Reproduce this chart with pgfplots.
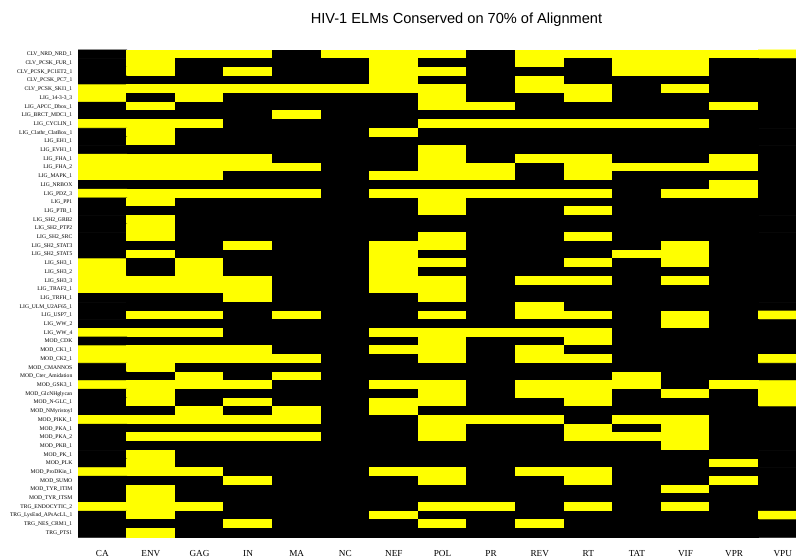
\documentclass[border=0pt]{standalone}
\usepackage{pgfplots}
\pgfplotsset{compat=1.18}
\usepackage{fontspec}
\setmainfont{Liberation Serif}
\newfontfamily\titlefont{Liberation Sans}
\definecolor{cellyellow}{RGB}{255,255,0}
\begin{document}
\begin{tikzpicture}
\useasboundingbox (0,0) rectangle (398pt,280pt);
\begin{axis}[
  at={(39pt,11.35pt)}, anchor=south west,
  x=24.3pt, y=4.351pt,
  xmin=-0.5, xmax=14.27, ymin=-0.5, ymax=55.5,
  axis line style={draw=none},
  major tick length=0pt,
  xtick={0,...,14},
  xticklabels={CA,ENV,GAG,IN,MA,NC,NEF,POL,PR,REV,RT,TAT,VIF,VPR,VPU},
  ytick={0,...,55},
  yticklabels={TRG\_PTS1,TRG\_NES\_CRM1\_1,TRG\_LysEnd\_APsAcLL\_1,TRG\_ENDOCYTIC\_2,MOD\_TYR\_ITSM,MOD\_TYR\_ITIM,MOD\_SUMO,MOD\_ProDKin\_1,MOD\_PLK,MOD\_PK\_1,MOD\_PKB\_1,MOD\_PKA\_2,MOD\_PKA\_1,MOD\_PIKK\_1,MOD\_NMyristoyl,MOD\_N-GLC\_1,MOD\_GlcNHglycan,MOD\_GSK3\_1,MOD\_Cter\_Amidation,MOD\_CMANNOS,MOD\_CK2\_1,MOD\_CK1\_1,MOD\_CDK,LIG\_WW\_4,LIG\_WW\_2,LIG\_USP7\_1,LIG\_ULM\_U2AF65\_1,LIG\_TRFH\_1,LIG\_TRAF2\_1,LIG\_SH3\_3,LIG\_SH3\_2,LIG\_SH3\_1,LIG\_SH2\_STAT5,LIG\_SH2\_STAT3,LIG\_SH2\_SRC,LIG\_SH2\_PTP2,LIG\_SH2\_GRB2,LIG\_PTB\_1,LIG\_PP1,LIG\_PDZ\_3,LIG\_NRBOX,LIG\_MAPK\_1,LIG\_FHA\_2,LIG\_FHA\_1,LIG\_EVH1\_1,LIG\_EH1\_1,LIG\_Clathr\_ClatBox\_1,LIG\_CYCLIN\_1,LIG\_BRCT\_MDC1\_1,LIG\_APCC\_Dbox\_1,LIG\_14-3-3\_3,CLV\_PCSK\_SKI1\_1,CLV\_PCSK\_PC7\_1,CLV\_PCSK\_PC1ET2\_1,CLV\_PCSK\_FUR\_1,CLV\_NRD\_NRD\_1},
  xticklabel style={font=\fontsize{4.6}{5}\selectfont, inner sep=0pt, yshift=-6.35pt},
  yticklabel style={font=\fontsize{2.8}{3}\selectfont, inner sep=0pt, xshift=-2.65pt},
  colormap={by}{color=(black) color=(cellyellow)},
  point meta min=0, point meta max=1,
]
\addplot[matrix plot*, mesh/cols=15, point meta=explicit] coordinates {
(0,55)[0] (1,55)[1] (2,55)[1] (3,55)[1] (4,55)[0] (5,55)[1] (6,55)[1] (7,55)[1] (8,55)[0] (9,55)[1] (10,55)[1] (11,55)[1] (12,55)[1] (13,55)[1] (14,55)[1]
(0,54)[0] (1,54)[1] (2,54)[0] (3,54)[0] (4,54)[0] (5,54)[0] (6,54)[1] (7,54)[0] (8,54)[0] (9,54)[1] (10,54)[0] (11,54)[1] (12,54)[1] (13,54)[0] (14,54)[0]
(0,53)[0] (1,53)[1] (2,53)[0] (3,53)[1] (4,53)[0] (5,53)[0] (6,53)[1] (7,53)[1] (8,53)[0] (9,53)[0] (10,53)[0] (11,53)[1] (12,53)[1] (13,53)[0] (14,53)[0]
(0,52)[0] (1,52)[0] (2,52)[0] (3,52)[0] (4,52)[0] (5,52)[0] (6,52)[1] (7,52)[0] (8,52)[0] (9,52)[1] (10,52)[0] (11,52)[0] (12,52)[0] (13,52)[0] (14,52)[0]
(0,51)[1] (1,51)[1] (2,51)[1] (3,51)[1] (4,51)[1] (5,51)[1] (6,51)[1] (7,51)[1] (8,51)[0] (9,51)[1] (10,51)[1] (11,51)[0] (12,51)[1] (13,51)[0] (14,51)[0]
(0,50)[1] (1,50)[0] (2,50)[1] (3,50)[0] (4,50)[0] (5,50)[0] (6,50)[0] (7,50)[1] (8,50)[0] (9,50)[0] (10,50)[1] (11,50)[0] (12,50)[0] (13,50)[0] (14,50)[0]
(0,49)[0] (1,49)[1] (2,49)[0] (3,49)[0] (4,49)[0] (5,49)[0] (6,49)[0] (7,49)[1] (8,49)[1] (9,49)[0] (10,49)[0] (11,49)[0] (12,49)[0] (13,49)[1] (14,49)[0]
(0,48)[0] (1,48)[0] (2,48)[0] (3,48)[0] (4,48)[1] (5,48)[0] (6,48)[0] (7,48)[0] (8,48)[0] (9,48)[0] (10,48)[0] (11,48)[0] (12,48)[0] (13,48)[0] (14,48)[0]
(0,47)[1] (1,47)[1] (2,47)[1] (3,47)[0] (4,47)[0] (5,47)[0] (6,47)[0] (7,47)[1] (8,47)[1] (9,47)[1] (10,47)[1] (11,47)[1] (12,47)[1] (13,47)[0] (14,47)[0]
(0,46)[0] (1,46)[1] (2,46)[0] (3,46)[0] (4,46)[0] (5,46)[0] (6,46)[1] (7,46)[0] (8,46)[0] (9,46)[0] (10,46)[0] (11,46)[0] (12,46)[0] (13,46)[0] (14,46)[0]
(0,45)[0] (1,45)[1] (2,45)[0] (3,45)[0] (4,45)[0] (5,45)[0] (6,45)[0] (7,45)[0] (8,45)[0] (9,45)[0] (10,45)[0] (11,45)[0] (12,45)[0] (13,45)[0] (14,45)[0]
(0,44)[0] (1,44)[0] (2,44)[0] (3,44)[0] (4,44)[0] (5,44)[0] (6,44)[0] (7,44)[1] (8,44)[0] (9,44)[0] (10,44)[0] (11,44)[0] (12,44)[0] (13,44)[0] (14,44)[0]
(0,43)[1] (1,43)[1] (2,43)[1] (3,43)[1] (4,43)[0] (5,43)[0] (6,43)[0] (7,43)[1] (8,43)[0] (9,43)[1] (10,43)[1] (11,43)[0] (12,43)[0] (13,43)[1] (14,43)[0]
(0,42)[1] (1,42)[1] (2,42)[1] (3,42)[1] (4,42)[1] (5,42)[0] (6,42)[0] (7,42)[1] (8,42)[1] (9,42)[0] (10,42)[1] (11,42)[1] (12,42)[1] (13,42)[1] (14,42)[0]
(0,41)[1] (1,41)[1] (2,41)[1] (3,41)[0] (4,41)[0] (5,41)[0] (6,41)[1] (7,41)[1] (8,41)[1] (9,41)[0] (10,41)[1] (11,41)[0] (12,41)[0] (13,41)[0] (14,41)[0]
(0,40)[0] (1,40)[0] (2,40)[0] (3,40)[0] (4,40)[0] (5,40)[0] (6,40)[0] (7,40)[0] (8,40)[0] (9,40)[0] (10,40)[0] (11,40)[0] (12,40)[0] (13,40)[1] (14,40)[0]
(0,39)[1] (1,39)[1] (2,39)[1] (3,39)[1] (4,39)[1] (5,39)[0] (6,39)[1] (7,39)[1] (8,39)[1] (9,39)[1] (10,39)[1] (11,39)[0] (12,39)[1] (13,39)[1] (14,39)[0]
(0,38)[0] (1,38)[1] (2,38)[0] (3,38)[0] (4,38)[0] (5,38)[0] (6,38)[0] (7,38)[1] (8,38)[0] (9,38)[0] (10,38)[0] (11,38)[0] (12,38)[0] (13,38)[0] (14,38)[0]
(0,37)[0] (1,37)[0] (2,37)[0] (3,37)[0] (4,37)[0] (5,37)[0] (6,37)[0] (7,37)[1] (8,37)[0] (9,37)[0] (10,37)[1] (11,37)[0] (12,37)[0] (13,37)[0] (14,37)[0]
(0,36)[0] (1,36)[1] (2,36)[0] (3,36)[0] (4,36)[0] (5,36)[0] (6,36)[0] (7,36)[0] (8,36)[0] (9,36)[0] (10,36)[0] (11,36)[0] (12,36)[0] (13,36)[0] (14,36)[0]
(0,35)[0] (1,35)[1] (2,35)[0] (3,35)[0] (4,35)[0] (5,35)[0] (6,35)[0] (7,35)[0] (8,35)[0] (9,35)[0] (10,35)[0] (11,35)[0] (12,35)[0] (13,35)[0] (14,35)[0]
(0,34)[0] (1,34)[1] (2,34)[0] (3,34)[0] (4,34)[0] (5,34)[0] (6,34)[0] (7,34)[1] (8,34)[0] (9,34)[0] (10,34)[1] (11,34)[0] (12,34)[0] (13,34)[0] (14,34)[0]
(0,33)[0] (1,33)[0] (2,33)[0] (3,33)[1] (4,33)[0] (5,33)[0] (6,33)[1] (7,33)[1] (8,33)[0] (9,33)[0] (10,33)[0] (11,33)[0] (12,33)[1] (13,33)[0] (14,33)[0]
(0,32)[0] (1,32)[1] (2,32)[0] (3,32)[0] (4,32)[0] (5,32)[0] (6,32)[1] (7,32)[0] (8,32)[0] (9,32)[0] (10,32)[0] (11,32)[1] (12,32)[1] (13,32)[0] (14,32)[0]
(0,31)[1] (1,31)[0] (2,31)[1] (3,31)[0] (4,31)[0] (5,31)[0] (6,31)[1] (7,31)[1] (8,31)[0] (9,31)[0] (10,31)[1] (11,31)[0] (12,31)[1] (13,31)[0] (14,31)[0]
(0,30)[1] (1,30)[0] (2,30)[1] (3,30)[0] (4,30)[0] (5,30)[0] (6,30)[1] (7,30)[0] (8,30)[0] (9,30)[0] (10,30)[0] (11,30)[0] (12,30)[0] (13,30)[0] (14,30)[0]
(0,29)[1] (1,29)[1] (2,29)[1] (3,29)[1] (4,29)[0] (5,29)[0] (6,29)[1] (7,29)[1] (8,29)[0] (9,29)[1] (10,29)[1] (11,29)[0] (12,29)[1] (13,29)[0] (14,29)[0]
(0,28)[1] (1,28)[1] (2,28)[1] (3,28)[1] (4,28)[0] (5,28)[0] (6,28)[1] (7,28)[1] (8,28)[0] (9,28)[0] (10,28)[0] (11,28)[0] (12,28)[0] (13,28)[0] (14,28)[0]
(0,27)[0] (1,27)[0] (2,27)[0] (3,27)[1] (4,27)[0] (5,27)[0] (6,27)[0] (7,27)[1] (8,27)[0] (9,27)[0] (10,27)[0] (11,27)[0] (12,27)[0] (13,27)[0] (14,27)[0]
(0,26)[0] (1,26)[0] (2,26)[0] (3,26)[0] (4,26)[0] (5,26)[0] (6,26)[0] (7,26)[0] (8,26)[0] (9,26)[1] (10,26)[0] (11,26)[0] (12,26)[0] (13,26)[0] (14,26)[0]
(0,25)[0] (1,25)[1] (2,25)[1] (3,25)[0] (4,25)[1] (5,25)[0] (6,25)[0] (7,25)[1] (8,25)[0] (9,25)[1] (10,25)[1] (11,25)[0] (12,25)[1] (13,25)[0] (14,25)[1]
(0,24)[0] (1,24)[0] (2,24)[0] (3,24)[0] (4,24)[0] (5,24)[0] (6,24)[0] (7,24)[0] (8,24)[0] (9,24)[0] (10,24)[0] (11,24)[0] (12,24)[1] (13,24)[0] (14,24)[0]
(0,23)[1] (1,23)[1] (2,23)[1] (3,23)[0] (4,23)[0] (5,23)[0] (6,23)[1] (7,23)[1] (8,23)[1] (9,23)[1] (10,23)[1] (11,23)[0] (12,23)[0] (13,23)[0] (14,23)[0]
(0,22)[0] (1,22)[0] (2,22)[0] (3,22)[0] (4,22)[0] (5,22)[0] (6,22)[0] (7,22)[1] (8,22)[0] (9,22)[0] (10,22)[1] (11,22)[0] (12,22)[0] (13,22)[0] (14,22)[0]
(0,21)[1] (1,21)[1] (2,21)[1] (3,21)[1] (4,21)[0] (5,21)[0] (6,21)[1] (7,21)[1] (8,21)[0] (9,21)[1] (10,21)[0] (11,21)[0] (12,21)[0] (13,21)[0] (14,21)[0]
(0,20)[1] (1,20)[1] (2,20)[1] (3,20)[1] (4,20)[1] (5,20)[0] (6,20)[0] (7,20)[1] (8,20)[0] (9,20)[1] (10,20)[1] (11,20)[0] (12,20)[0] (13,20)[0] (14,20)[1]
(0,19)[0] (1,19)[1] (2,19)[0] (3,19)[0] (4,19)[0] (5,19)[0] (6,19)[0] (7,19)[0] (8,19)[0] (9,19)[0] (10,19)[0] (11,19)[0] (12,19)[0] (13,19)[0] (14,19)[0]
(0,18)[0] (1,18)[0] (2,18)[1] (3,18)[0] (4,18)[1] (5,18)[0] (6,18)[0] (7,18)[0] (8,18)[0] (9,18)[0] (10,18)[0] (11,18)[1] (12,18)[0] (13,18)[0] (14,18)[0]
(0,17)[1] (1,17)[1] (2,17)[1] (3,17)[1] (4,17)[0] (5,17)[0] (6,17)[1] (7,17)[1] (8,17)[0] (9,17)[1] (10,17)[1] (11,17)[1] (12,17)[0] (13,17)[1] (14,17)[1]
(0,16)[0] (1,16)[1] (2,16)[0] (3,16)[0] (4,16)[0] (5,16)[0] (6,16)[0] (7,16)[1] (8,16)[0] (9,16)[1] (10,16)[1] (11,16)[0] (12,16)[1] (13,16)[0] (14,16)[1]
(0,15)[0] (1,15)[1] (2,15)[0] (3,15)[1] (4,15)[0] (5,15)[0] (6,15)[1] (7,15)[1] (8,15)[0] (9,15)[0] (10,15)[1] (11,15)[0] (12,15)[0] (13,15)[0] (14,15)[1]
(0,14)[0] (1,14)[0] (2,14)[1] (3,14)[0] (4,14)[1] (5,14)[0] (6,14)[1] (7,14)[0] (8,14)[0] (9,14)[0] (10,14)[0] (11,14)[0] (12,14)[0] (13,14)[0] (14,14)[0]
(0,13)[1] (1,13)[1] (2,13)[1] (3,13)[1] (4,13)[1] (5,13)[0] (6,13)[0] (7,13)[1] (8,13)[1] (9,13)[1] (10,13)[0] (11,13)[1] (12,13)[1] (13,13)[0] (14,13)[0]
(0,12)[0] (1,12)[0] (2,12)[0] (3,12)[0] (4,12)[0] (5,12)[0] (6,12)[0] (7,12)[1] (8,12)[0] (9,12)[0] (10,12)[1] (11,12)[0] (12,12)[1] (13,12)[0] (14,12)[0]
(0,11)[0] (1,11)[1] (2,11)[1] (3,11)[1] (4,11)[1] (5,11)[0] (6,11)[0] (7,11)[1] (8,11)[0] (9,11)[0] (10,11)[1] (11,11)[1] (12,11)[1] (13,11)[0] (14,11)[0]
(0,10)[0] (1,10)[0] (2,10)[0] (3,10)[0] (4,10)[0] (5,10)[0] (6,10)[0] (7,10)[0] (8,10)[0] (9,10)[0] (10,10)[0] (11,10)[0] (12,10)[1] (13,10)[0] (14,10)[0]
(0,9)[0] (1,9)[1] (2,9)[0] (3,9)[0] (4,9)[0] (5,9)[0] (6,9)[0] (7,9)[0] (8,9)[0] (9,9)[0] (10,9)[0] (11,9)[0] (12,9)[0] (13,9)[0] (14,9)[0]
(0,8)[0] (1,8)[1] (2,8)[0] (3,8)[0] (4,8)[0] (5,8)[0] (6,8)[0] (7,8)[0] (8,8)[0] (9,8)[0] (10,8)[0] (11,8)[0] (12,8)[0] (13,8)[1] (14,8)[0]
(0,7)[1] (1,7)[1] (2,7)[1] (3,7)[0] (4,7)[0] (5,7)[0] (6,7)[1] (7,7)[1] (8,7)[0] (9,7)[1] (10,7)[1] (11,7)[0] (12,7)[0] (13,7)[0] (14,7)[0]
(0,6)[0] (1,6)[0] (2,6)[0] (3,6)[1] (4,6)[0] (5,6)[0] (6,6)[0] (7,6)[1] (8,6)[0] (9,6)[0] (10,6)[1] (11,6)[0] (12,6)[0] (13,6)[1] (14,6)[0]
(0,5)[0] (1,5)[1] (2,5)[0] (3,5)[0] (4,5)[0] (5,5)[0] (6,5)[0] (7,5)[0] (8,5)[0] (9,5)[0] (10,5)[0] (11,5)[0] (12,5)[1] (13,5)[0] (14,5)[0]
(0,4)[0] (1,4)[1] (2,4)[0] (3,4)[0] (4,4)[0] (5,4)[0] (6,4)[0] (7,4)[0] (8,4)[0] (9,4)[0] (10,4)[0] (11,4)[0] (12,4)[0] (13,4)[0] (14,4)[0]
(0,3)[1] (1,3)[1] (2,3)[1] (3,3)[0] (4,3)[0] (5,3)[0] (6,3)[0] (7,3)[1] (8,3)[1] (9,3)[0] (10,3)[1] (11,3)[0] (12,3)[1] (13,3)[0] (14,3)[0]
(0,2)[0] (1,2)[1] (2,2)[0] (3,2)[0] (4,2)[0] (5,2)[0] (6,2)[1] (7,2)[0] (8,2)[0] (9,2)[0] (10,2)[0] (11,2)[0] (12,2)[0] (13,2)[0] (14,2)[1]
(0,1)[0] (1,1)[0] (2,1)[0] (3,1)[1] (4,1)[0] (5,1)[0] (6,1)[0] (7,1)[1] (8,1)[0] (9,1)[1] (10,1)[0] (11,1)[0] (12,1)[0] (13,1)[0] (14,1)[0]
(0,0)[0] (1,0)[1] (2,0)[0] (3,0)[0] (4,0)[0] (5,0)[0] (6,0)[0] (7,0)[0] (8,0)[0] (9,0)[0] (10,0)[0] (11,0)[0] (12,0)[0] (13,0)[0] (14,0)[0]
};
\end{axis}
\node[font=\titlefont\fontsize{7.3}{8.5}\selectfont] at (228.25pt,270pt) {HIV-1 ELMs Conserved on 70\% of Alignment};
\end{tikzpicture}
\end{document}
